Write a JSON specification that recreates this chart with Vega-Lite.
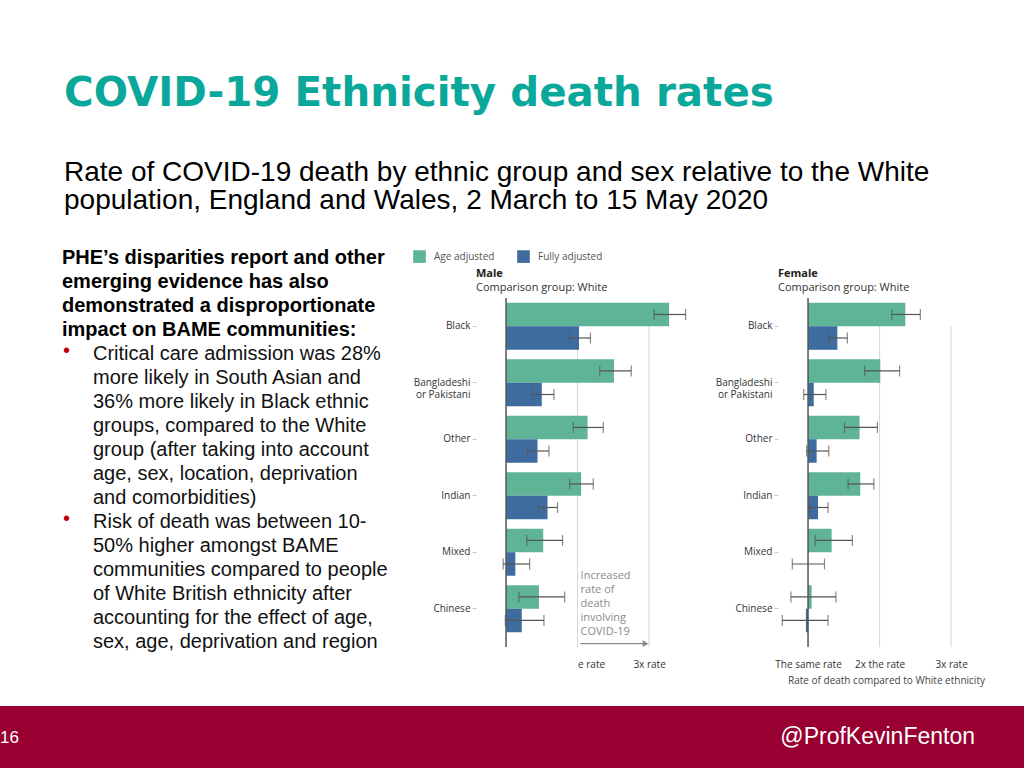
{
  "$schema": "https://vega.github.io/schema/vega-lite/v6.json",
  "background": "white",
  "padding": {"left": 0, "top": 73, "right": 0, "bottom": 0},
  "title": {
    "text": "COVID-19 Ethnicity death rates",
    "subtitle": ["Rate of COVID-19 death by ethnic group and sex relative to the White", "population, England and Wales, 2 March to 15 May 2020"],
    "anchor": "start",
    "dx": 64,
    "font": "DejaVu Sans",
    "fontSize": 40.4,
    "fontWeight": "bold",
    "color": "#0aa89a",
    "subtitleFont": "Liberation Sans",
    "subtitleFontSize": 28,
    "subtitleColor": "#000000",
    "subtitleLineHeight": 28,
    "subtitlePadding": 45,
    "offset": 33
  },
  "datasets": {
    "rates": [
      {"sex": "Male", "ethnicity": "Black", "measure": "Age adjusted", "rate": 3.28, "lo": 3.07, "hi": 3.51},
      {"sex": "Male", "ethnicity": "Black", "measure": "Fully adjusted", "rate": 2.02, "lo": 1.89, "hi": 2.18},
      {"sex": "Male", "ethnicity": "Bangladeshi or Pakistani", "measure": "Age adjusted", "rate": 2.51, "lo": 2.31, "hi": 2.75},
      {"sex": "Male", "ethnicity": "Bangladeshi or Pakistani", "measure": "Fully adjusted", "rate": 1.5, "lo": 1.37, "hi": 1.67},
      {"sex": "Male", "ethnicity": "Other", "measure": "Age adjusted", "rate": 2.14, "lo": 1.94, "hi": 2.36},
      {"sex": "Male", "ethnicity": "Other", "measure": "Fully adjusted", "rate": 1.44, "lo": 1.3, "hi": 1.6},
      {"sex": "Male", "ethnicity": "Indian", "measure": "Age adjusted", "rate": 2.05, "lo": 1.89, "hi": 2.22},
      {"sex": "Male", "ethnicity": "Indian", "measure": "Fully adjusted", "rate": 1.58, "lo": 1.45, "hi": 1.72},
      {"sex": "Male", "ethnicity": "Mixed", "measure": "Age adjusted", "rate": 1.52, "lo": 1.29, "hi": 1.79},
      {"sex": "Male", "ethnicity": "Mixed", "measure": "Fully adjusted", "rate": 1.13, "lo": 0.96, "hi": 1.33},
      {"sex": "Male", "ethnicity": "Chinese", "measure": "Age adjusted", "rate": 1.46, "lo": 1.18, "hi": 1.82},
      {"sex": "Male", "ethnicity": "Chinese", "measure": "Fully adjusted", "rate": 1.22, "lo": 0.99, "hi": 1.53},
      {"sex": "Female", "ethnicity": "Black", "measure": "Age adjusted", "rate": 2.36, "lo": 2.17, "hi": 2.57},
      {"sex": "Female", "ethnicity": "Black", "measure": "Fully adjusted", "rate": 1.41, "lo": 1.29, "hi": 1.55},
      {"sex": "Female", "ethnicity": "Bangladeshi or Pakistani", "measure": "Age adjusted", "rate": 2.01, "lo": 1.79, "hi": 2.28},
      {"sex": "Female", "ethnicity": "Bangladeshi or Pakistani", "measure": "Fully adjusted", "rate": 1.08, "lo": 0.94, "hi": 1.25},
      {"sex": "Female", "ethnicity": "Other", "measure": "Age adjusted", "rate": 1.72, "lo": 1.51, "hi": 1.97},
      {"sex": "Female", "ethnicity": "Other", "measure": "Fully adjusted", "rate": 1.12, "lo": 0.98, "hi": 1.29},
      {"sex": "Female", "ethnicity": "Indian", "measure": "Age adjusted", "rate": 1.73, "lo": 1.56, "hi": 1.92},
      {"sex": "Female", "ethnicity": "Indian", "measure": "Fully adjusted", "rate": 1.14, "lo": 1.02, "hi": 1.28},
      {"sex": "Female", "ethnicity": "Mixed", "measure": "Age adjusted", "rate": 1.33, "lo": 1.1, "hi": 1.62},
      {"sex": "Female", "ethnicity": "Mixed", "measure": "Fully adjusted", "rate": 1.0, "lo": 0.78, "hi": 1.23},
      {"sex": "Female", "ethnicity": "Chinese", "measure": "Age adjusted", "rate": 1.05, "lo": 0.76, "hi": 1.39},
      {"sex": "Female", "ethnicity": "Chinese", "measure": "Fully adjusted", "rate": 0.97, "lo": 0.64, "hi": 1.28}
    ],
    "bullets": [
      {"line": 1, "kind": "heading", "text": "PHE’s disparities report and other"},
      {"line": 2, "kind": "heading", "text": "emerging evidence has also"},
      {"line": 3, "kind": "heading", "text": "demonstrated a disproportionate"},
      {"line": 4, "kind": "heading", "text": "impact on BAME communities:"},
      {"line": 5, "kind": "bullet", "text": "Critical care admission was 28%"},
      {"line": 6, "kind": "cont", "text": "more likely in South Asian and"},
      {"line": 7, "kind": "cont", "text": "36% more likely in Black ethnic"},
      {"line": 8, "kind": "cont", "text": "groups, compared to the White"},
      {"line": 9, "kind": "cont", "text": "group (after taking into account"},
      {"line": 10, "kind": "cont", "text": "age, sex, location, deprivation"},
      {"line": 11, "kind": "cont", "text": "and comorbidities)"},
      {"line": 12, "kind": "bullet", "text": "Risk of death was between 10-"},
      {"line": 13, "kind": "cont", "text": "50% higher amongst BAME"},
      {"line": 14, "kind": "cont", "text": "communities compared to people"},
      {"line": 15, "kind": "cont", "text": "of White British ethnicity after"},
      {"line": 16, "kind": "cont", "text": "accounting for the effect of age,"},
      {"line": 17, "kind": "cont", "text": "sex, age, deprivation and region"}
    ],
    "grid": [{"g": 2}, {"g": 3}]
  },
  "spacing": 21,
  "resolve": {"scale": {"color": "independent"}, "legend": {"color": "independent"}},
  "vconcat": [
    {
      "spacing": 23,
      "resolve": {"scale": {"color": "independent"}, "legend": {"color": "independent"}},
      "hconcat": [
        {
          "width": 390,
          "height": 349,
          "view": {"fill": "#ffffff", "stroke": null},
          "data": {"name": "bullets"},
          "layer": [
            {
              "transform": [{"filter": "datum.kind == 'heading'"}],
              "mark": {"type": "text", "align": "left", "baseline": "middle", "font": "Liberation Sans", "fontSize": 20, "fontWeight": "bold", "color": "#000000"},
              "encoding": {
                "x": {"value": 62},
                "y": {"field": "line", "type": "quantitative", "scale": {"domain": [2.667, 17.21], "reverse": true, "nice": false, "zero": false}, "axis": null},
                "text": {"field": "text"}
              }
            },
            {
              "transform": [{"filter": "datum.kind != 'heading'"}],
              "mark": {"type": "text", "align": "left", "baseline": "middle", "font": "Liberation Sans", "fontSize": 20, "color": "#111111"},
              "encoding": {
                "x": {"value": 93},
                "y": {"field": "line", "type": "quantitative", "axis": null},
                "text": {"field": "text"}
              }
            },
            {
              "transform": [{"filter": "datum.kind == 'bullet'"}],
              "mark": {"type": "text", "align": "left", "baseline": "middle", "font": "Liberation Sans", "fontSize": 20, "color": "#c00000", "text": "•", "dy": -3},
              "encoding": {
                "x": {"value": 63},
                "y": {"field": "line", "type": "quantitative", "axis": null}
              }
            }
          ]
        },
        {
          "spacing": 23,
          "hconcat": [
            {
              "width": 216,
              "height": 349,
              "title": {"text": "Male", "subtitle": "Comparison group: White", "anchor": "start", "frame": "group", "font": "Open Sans", "fontSize": 11, "fontWeight": "bold", "color": "#222222", "subtitleFont": "Open Sans", "subtitleFontSize": 11, "subtitleColor": "#333333", "subtitlePadding": 3, "offset": 4},
              "layer": [
                {
                  "data": {"name": "grid"},
                  "mark": {"type": "rule", "color": "#d6d6d6", "strokeWidth": 1},
                  "encoding": {
                    "x": {"field": "g", "type": "quantitative"},
                    "y": {"datum": "Black", "type": "nominal", "bandPosition": 0.5},
                    "y2": {"value": "height"}
                  }
                },
                {
                  "data": {"name": "rates"},
                  "transform": [{"filter": "datum.sex == 'Male'"}],
                  "layer": [
                    {
                      "mark": {"type": "bar"},
                      "encoding": {
                        "y": {"field": "ethnicity", "type": "nominal", "scale": {"domain": ["Black", "Bangladeshi or Pakistani", "Other", "Indian", "Mixed", "Chinese"], "paddingInner": 0, "paddingOuter": 0.089, "align": 0}, "axis": {"title": null, "domain": false, "ticks": true, "tickColor": "#cccccc", "tickSize": 4, "labelPadding": 2, "labelFontSize": 10, "labelColor": "#333333", "labelLineHeight": 12, "labelExpr": "datum.label == 'Bangladeshi or Pakistani' ? ['Bangladeshi', 'or Pakistani'] : datum.label"}},
                        "yOffset": {"field": "measure", "type": "nominal", "scale": {"domain": ["Age adjusted", "Fully adjusted"], "paddingInner": 0, "paddingOuter": 0.2}},
                        "x": {"field": "rate", "type": "quantitative", "scale": {"domain": [0.58, 3.6], "nice": false, "zero": false}, "axis": {"title": null, "values": [1, 2, 3], "domain": false, "ticks": false, "grid": false, "labelPadding": 12, "labelFontSize": 10, "labelColor": "#333333", "labelExpr": "datum.value == 1 ? '' : datum.value == 2 ? 'e rate' : '3x rate'", "labelAlign": {"condition": {"test": "datum.value == 2", "value": "left"}, "value": "center"}}},
                        "x2": {"datum": 1},
                        "color": {"field": "measure", "type": "nominal", "scale": {"domain": ["Age adjusted", "Fully adjusted"], "range": ["#5fb397", "#3e6c9f"]}, "legend": {"orient": "none", "legendX": -63, "legendY": -48, "direction": "horizontal", "title": null, "symbolType": "square", "symbolSize": 160, "symbolStrokeWidth": 0, "labelFont": "Open Sans", "labelFontSize": 10, "labelColor": "#555555", "labelOffset": 8, "columnPadding": 22}}
                      }
                    },
                    {
                      "mark": {"type": "rule", "color": "#555555", "strokeWidth": 1.2},
                      "encoding": {
                        "y": {"field": "ethnicity", "type": "nominal"},
                        "yOffset": {"field": "measure", "type": "nominal"},
                        "x": {"field": "lo", "type": "quantitative"},
                        "x2": {"field": "hi"}
                      }
                    },
                    {
                      "mark": {"type": "tick", "color": "#555555", "size": 11, "thickness": 1.2, "orient": "vertical"},
                      "encoding": {
                        "y": {"field": "ethnicity", "type": "nominal"},
                        "yOffset": {"field": "measure", "type": "nominal"},
                        "x": {"field": "lo", "type": "quantitative"}
                      }
                    },
                    {
                      "mark": {"type": "tick", "color": "#555555", "size": 11, "thickness": 1.2, "orient": "vertical"},
                      "encoding": {
                        "y": {"field": "ethnicity", "type": "nominal"},
                        "yOffset": {"field": "measure", "type": "nominal"},
                        "x": {"field": "hi", "type": "quantitative"}
                      }
                    }
                  ]
                },
                {
                  "data": {"values": [{"ref": 1}]},
                  "mark": {"type": "rule", "color": "#555555", "strokeWidth": 1.5},
                  "encoding": {"x": {"field": "ref", "type": "quantitative"}}
                },
                {
                  "data": {"values": [{"note": "Increased\nrate of\ndeath\ninvolving\nCOVID-19"}]},
                  "layer": [
                    {
                      "mark": {"type": "text", "align": "left", "baseline": "middle", "dx": 3, "dy": -33, "font": "Open Sans", "fontSize": 11, "color": "#8a8a8a", "lineBreak": "\n", "lineHeight": 14},
                      "encoding": {
                        "x": {"datum": 2, "type": "quantitative"},
                        "y": {"datum": "Chinese", "type": "nominal"},
                        "text": {"field": "note"}
                      }
                    },
                    {
                      "mark": {"type": "rule", "color": "#8a8a8a", "strokeWidth": 1.2},
                      "encoding": {
                        "x": {"datum": 2.04, "type": "quantitative"},
                        "x2": {"datum": 2.92},
                        "y": {"datum": "Chinese", "type": "nominal", "bandPosition": 1.12}
                      }
                    },
                    {
                      "mark": {"type": "point", "shape": "triangle-right", "filled": true, "size": 45, "color": "#8a8a8a", "opacity": 1},
                      "encoding": {
                        "x": {"datum": 2.95, "type": "quantitative"},
                        "y": {"datum": "Chinese", "type": "nominal", "bandPosition": 1.12}
                      }
                    }
                  ]
                }
              ]
            },
            {
              "width": 216,
              "height": 349,
              "title": {"text": "Female", "subtitle": "Comparison group: White", "anchor": "start", "frame": "group", "font": "Open Sans", "fontSize": 11, "fontWeight": "bold", "color": "#222222", "subtitleFont": "Open Sans", "subtitleFontSize": 11, "subtitleColor": "#333333", "subtitlePadding": 3, "offset": 4},
              "layer": [
                {
                  "data": {"name": "grid"},
                  "mark": {"type": "rule", "color": "#d6d6d6", "strokeWidth": 1},
                  "encoding": {
                    "x": {"field": "g", "type": "quantitative"},
                    "y": {"datum": "Black", "type": "nominal", "bandPosition": 0.5},
                    "y2": {"value": "height"}
                  }
                },
                {
                  "data": {"name": "rates"},
                  "transform": [{"filter": "datum.sex == 'Female'"}],
                  "layer": [
                    {
                      "mark": {"type": "bar"},
                      "encoding": {
                        "y": {"field": "ethnicity", "type": "nominal", "scale": {"domain": ["Black", "Bangladeshi or Pakistani", "Other", "Indian", "Mixed", "Chinese"], "paddingInner": 0, "paddingOuter": 0.089, "align": 0}, "axis": {"title": null, "domain": false, "ticks": true, "tickColor": "#cccccc", "tickSize": 4, "labelPadding": 2, "labelFontSize": 10, "labelColor": "#333333", "labelLineHeight": 12, "labelExpr": "datum.label == 'Bangladeshi or Pakistani' ? ['Bangladeshi', 'or Pakistani'] : datum.label"}},
                        "yOffset": {"field": "measure", "type": "nominal", "scale": {"domain": ["Age adjusted", "Fully adjusted"], "paddingInner": 0, "paddingOuter": 0.2}},
                        "x": {"field": "rate", "type": "quantitative", "scale": {"domain": [0.58, 3.6], "nice": false, "zero": false}, "axis": {"title": "Rate of death compared to White ethnicity", "titleFontSize": 10, "titleFontWeight": "normal", "titleColor": "#444444", "titlePadding": 6, "values": [1, 2, 3], "domain": false, "ticks": false, "grid": false, "labelPadding": 12, "labelFontSize": 10, "labelColor": "#333333", "labelExpr": "datum.value == 1 ? 'The same rate' : datum.value == 2 ? '2x the rate' : '3x rate'"}},
                        "x2": {"datum": 1},
                        "color": {"field": "measure", "type": "nominal", "scale": {"domain": ["Age adjusted", "Fully adjusted"], "range": ["#5fb397", "#3e6c9f"]}, "legend": {"orient": "none", "legendX": -63, "legendY": -48, "direction": "horizontal", "title": null, "symbolType": "square", "symbolSize": 160, "symbolStrokeWidth": 0, "labelFont": "Open Sans", "labelFontSize": 10, "labelColor": "#555555", "labelOffset": 8, "columnPadding": 22}}
                      }
                    },
                    {
                      "mark": {"type": "rule", "color": "#555555", "strokeWidth": 1.2},
                      "encoding": {
                        "y": {"field": "ethnicity", "type": "nominal"},
                        "yOffset": {"field": "measure", "type": "nominal"},
                        "x": {"field": "lo", "type": "quantitative"},
                        "x2": {"field": "hi"}
                      }
                    },
                    {
                      "mark": {"type": "tick", "color": "#555555", "size": 11, "thickness": 1.2, "orient": "vertical"},
                      "encoding": {
                        "y": {"field": "ethnicity", "type": "nominal"},
                        "yOffset": {"field": "measure", "type": "nominal"},
                        "x": {"field": "lo", "type": "quantitative"}
                      }
                    },
                    {
                      "mark": {"type": "tick", "color": "#555555", "size": 11, "thickness": 1.2, "orient": "vertical"},
                      "encoding": {
                        "y": {"field": "ethnicity", "type": "nominal"},
                        "yOffset": {"field": "measure", "type": "nominal"},
                        "x": {"field": "hi", "type": "quantitative"}
                      }
                    }
                  ]
                },
                {
                  "data": {"values": [{"ref": 1}]},
                  "mark": {"type": "rule", "color": "#555555", "strokeWidth": 1.5},
                  "encoding": {"x": {"field": "ref", "type": "quantitative"}}
                }
              ]
            }
          ]
        }
      ]
    },
    {
      "width": 1024,
      "height": 62,
      "view": {"fill": "#970031", "stroke": null},
      "data": {"values": [{"page": "16", "handle": "@ProfKevinFenton"}]},
      "layer": [
        {
          "mark": {"type": "text", "align": "left", "baseline": "middle", "font": "Liberation Sans", "fontSize": 17, "color": "#ffffff"},
          "encoding": {"x": {"value": 0}, "y": {"value": 32}, "text": {"field": "page"}}
        },
        {
          "mark": {"type": "text", "align": "right", "baseline": "middle", "font": "Liberation Sans", "fontSize": 23, "color": "#ffffff"},
          "encoding": {"x": {"value": 975}, "y": {"value": 31}, "text": {"field": "handle"}}
        }
      ]
    }
  ],
  "config": {
    "font": "Open Sans",
    "view": {"stroke": null},
    "axis": {"labelFont": "Open Sans", "titleFont": "Open Sans"}
  }
}
